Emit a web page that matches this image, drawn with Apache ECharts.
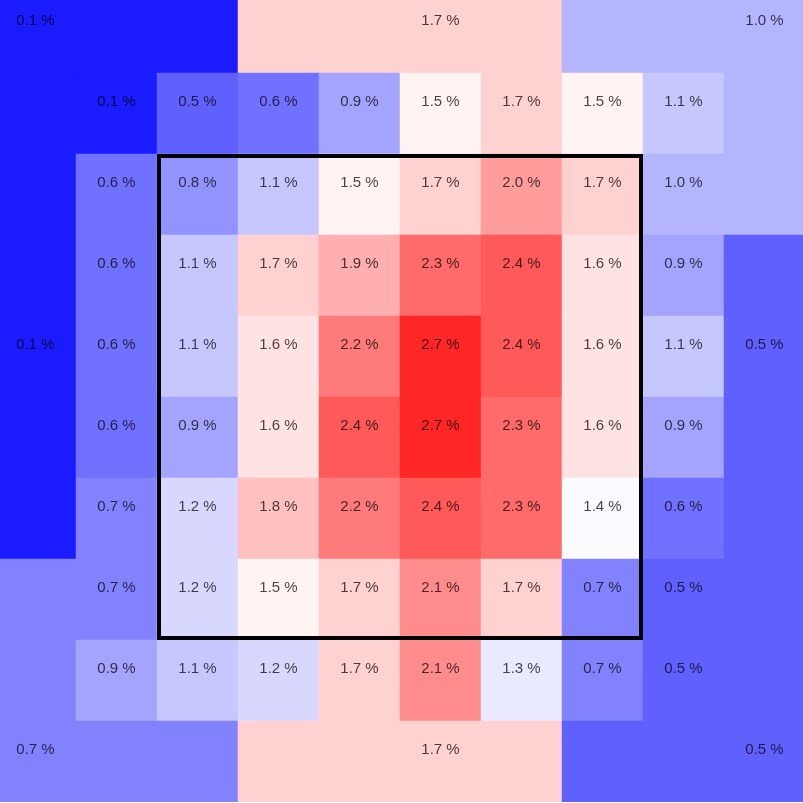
<!DOCTYPE html>
<html>
<head>
<meta charset="utf-8">
<title>Zone heatmap</title>
<script src="https://cdn.jsdelivr.net/npm/echarts@6/dist/echarts.min.js"></script>
<style>
  html, body { margin: 0; padding: 0; background: #fff; overflow: hidden; width: 803px; height: 803px; }
  /* the cell grid runs slightly past the window on every side */
  #main { position: absolute; left: -5px; top: -8px; width: 810px; height: 810px; }
</style>
</head>
<body>
<div id="main"></div>
<script>
// inner 8x8 cells, rows from top to bottom, columns left to right
var innerRows = [
  [0.1, 0.5, 0.6, 0.9, 1.5, 1.7, 1.5, 1.1],
  [0.6, 0.8, 1.1, 1.5, 1.7, 2.0, 1.7, 1.0],
  [0.6, 1.1, 1.7, 1.9, 2.3, 2.4, 1.6, 0.9],
  [0.6, 1.1, 1.6, 2.2, 2.7, 2.4, 1.6, 1.1],
  [0.6, 0.9, 1.6, 2.4, 2.7, 2.3, 1.6, 0.9],
  [0.7, 1.2, 1.8, 2.2, 2.4, 2.3, 1.4, 0.6],
  [0.7, 1.2, 1.5, 1.7, 2.1, 1.7, 0.7, 0.5],
  [0.9, 1.1, 1.2, 1.7, 2.1, 1.3, 0.7, 0.5]
];

// outer ring regions
var outerNames  = ['TL', 'T', 'TR', 'L', 'R', 'BL', 'B', 'BR'];
var outerValues = [0.1, 1.7, 1.0, 0.1, 0.5, 0.7, 1.7, 0.5];

// strike zone box, in cell indexes (first, last)
var zoneCols = [2, 7];
var zoneRows = [2, 7];

var cats = [];
for (var i = 0; i < 10; i++) cats.push(String(i));

function regionOf(c, r) {
  if (r === 0) return c <= 2 ? 'TL' : (c <= 6 ? 'T' : 'TR');
  if (r === 9) return c <= 2 ? 'BL' : (c <= 6 ? 'B' : 'BR');
  if (c === 0) return r <= 2 ? 'TL' : (r <= 6 ? 'L' : 'BL');
  return r <= 2 ? 'TR' : (r <= 6 ? 'R' : 'BR');
}
// where each region shows its label
var labelCell = { TL: '0,0', T: '5,0', TR: '9,0', L: '0,4', R: '9,4', BL: '0,9', B: '5,9', BR: '9,9' };

var data = [];
for (var r = 0; r < 10; r++) {
  for (var c = 0; c < 10; c++) {
    if (r >= 1 && r <= 8 && c >= 1 && c <= 8) {
      data.push([c, r, innerRows[r - 1][c - 1]]);
    } else {
      var reg = regionOf(c, r);
      var v = outerValues[outerNames.indexOf(reg)];
      var item = { value: [c, r, v] };
      if (labelCell[reg] !== c + ',' + r) item.label = { show: false };
      data.push(item);
    }
  }
}

var chart = echarts.init(document.getElementById('main'));
chart.setOption({
  animation: false,
  grid: { left: 0, top: 0, right: 0, bottom: 0, containLabel: false },
  xAxis: { type: 'category', data: cats, show: false },
  yAxis: { type: 'category', data: cats, inverse: true, show: false },
  visualMap: {
    show: false,
    type: 'continuous',
    seriesIndex: 0,
    dimension: 2,
    min: -0.06,
    max: 2.92,
    inRange: { color: ['#0000ff', '#ffffff', '#ff0000'] }
  },
  series: [
    {
      type: 'heatmap',
      data: data,
      label: {
        show: true,
        offset: [0, -12],
        fontFamily: 'Liberation Sans, Arial, sans-serif',
        fontSize: 15,
        color: 'rgba(0,0,0,0.72)',
        formatter: function (p) { return p.value[2].toFixed(1) + ' %'; }
      },
      emphasis: { disabled: true },
      itemStyle: { borderWidth: 0 }
    },
    {
      type: 'custom',
      silent: true,
      z: 5,
      data: [[zoneCols[0], zoneRows[0], zoneCols[1], zoneRows[1]]],
      renderItem: function (params, api) {
        var p0 = api.coord([api.value(0), api.value(1)]);
        var p1 = api.coord([api.value(2), api.value(3)]);
        var size = api.size([1, 1]);
        var x0 = p0[0] - size[0] / 2 + 2;
        var y0 = p0[1] - size[1] / 2 + 2;
        var x1 = p1[0] + size[0] / 2 - 2;
        var y1 = p1[1] + size[1] / 2 - 2;
        return {
          type: 'rect',
          shape: { x: x0, y: y0, width: x1 - x0, height: y1 - y0 },
          style: { fill: 'none', stroke: '#000', lineWidth: 4 }
        };
      }
    }
  ]
});
</script>
</body>
</html>
